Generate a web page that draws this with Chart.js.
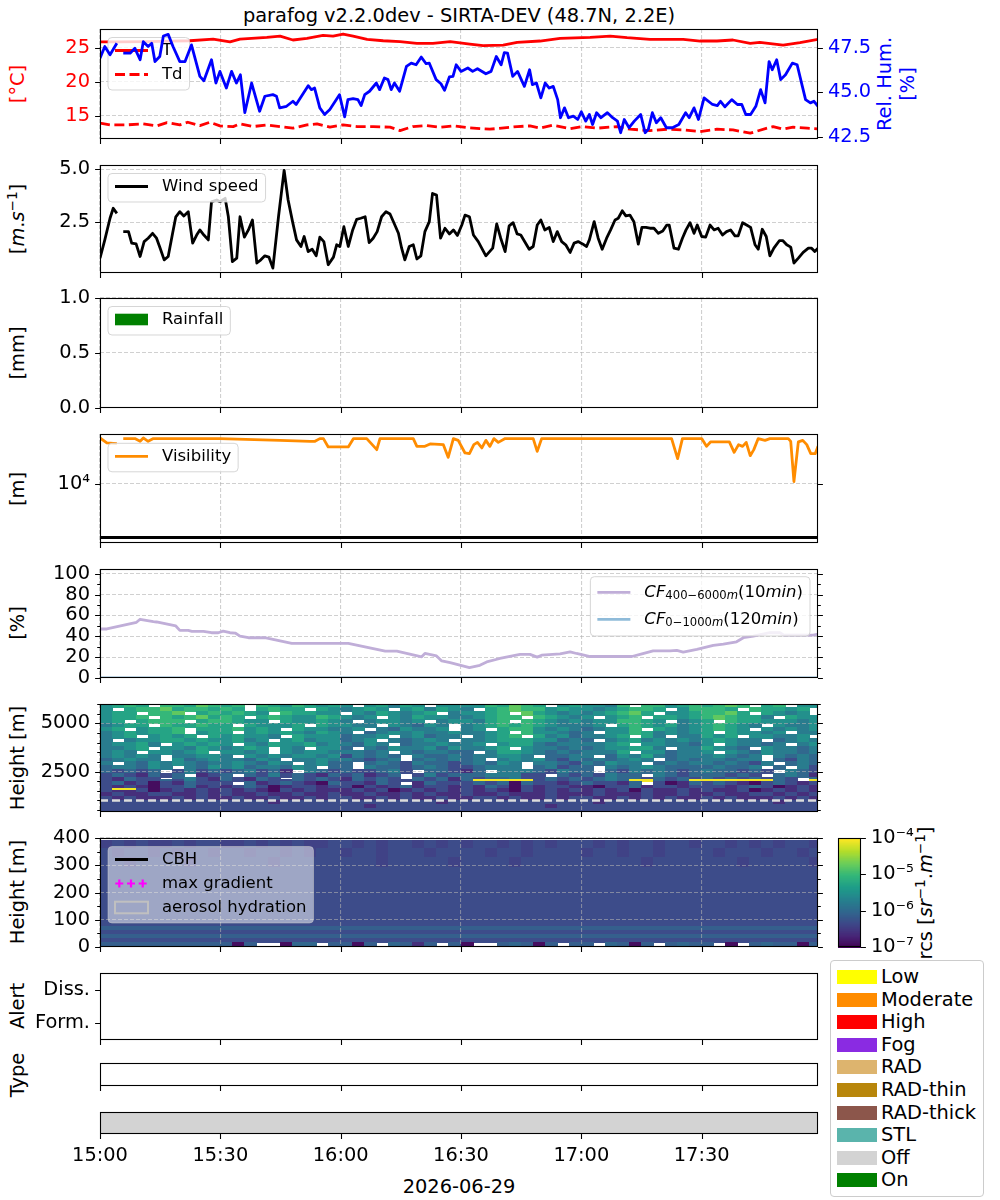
<!DOCTYPE html>
<html>
<head>
<meta charset="utf-8">
<title>parafog</title>
<script src="https://cdn.jsdelivr.net/npm/chart.js@4.4.1/dist/chart.umd.min.js"></script>
<style>
  body { margin: 0; background: #fff; }
  #fig { position: relative; width: 1000px; height: 1200px; overflow: hidden; font-family: 'DejaVu Sans', sans-serif; color: #000; }
  #fig canvas { position: absolute; left: 0; }
  .ylab { position: absolute; transform: translate(-50%, -50%) rotate(-90deg); white-space: nowrap; font-size: 19.4px; line-height: 23px; text-align: center; }
  .txt { position: absolute; transform: translate(-50%, -50%); white-space: nowrap; font-size: 19.4px; }
  .ylab sup { font-size: 0.7em; line-height: 0; vertical-align: 0.5em; }
  #states { position: absolute; left: 830px; top: 960px; width: 154px; height: 237px; box-sizing: border-box; border: 1px solid #ccc; border-radius: 4px; background: #fff; }
  .st { position: absolute; left: 6px; width: 40px; height: 14px; }
  .stl { position: absolute; left: 50px; font-size: 19.4px; line-height: 22px; white-space: nowrap; }
</style>
</head>
<body>
<div id="fig">
  <div class="txt" style="left:459px;top:15px">parafog v2.2.0dev - SIRTA-DEV (48.7N, 2.2E)</div>
  <div class="ylab" style="left:17px;top:84px;color:#f00">[°C]</div>
  <div class="ylab" style="left:896px;top:84px;color:#00f">Rel. Hum.<br>[%]</div>
  <div class="ylab" style="left:17px;top:219px">[<i>m</i>.<i>s</i><sup>−1</sup>]</div>
  <div class="ylab" style="left:17px;top:353px">[mm]</div>
  <div class="ylab" style="left:17px;top:489px">[m]</div>
  <div class="ylab" style="left:17px;top:623px">[%]</div>
  <div class="ylab" style="left:17px;top:758px">Height [m]</div>
  <div class="ylab" style="left:17px;top:892px">Height [m]</div>
  <div class="ylab" style="left:925px;top:893px">rcs [<i>sr</i><sup>−1</sup>.<i>m</i><sup>−1</sup>]</div>
  <div class="ylab" style="left:17px;top:1006px">Alert</div>
  <div class="ylab" style="left:17px;top:1075px">Type</div>
  <div class="txt" id="daylabel" style="left:459px;top:1186px"></div>
  <div id="states"></div>
</div>
<script>
// ---------- values ----------
var X_MAX = 179;                                   // minutes after 15:00
var xTicks = [0, 30, 60, 90, 120, 150];
var xTickLabels = ['15:00', '15:30', '16:00', '16:30', '17:00', '17:30'];
var dayLabel = '2026-06-29';

// temperature and dew point [°C]
var tempT = [0, 5, 12, 18, 22.4, 28.2, 32.4, 34.9, 41.6, 44.9, 48.1, 51.6, 55.6, 58.1, 60.6, 63.1, 66.6, 70.6, 74.8, 79, 83, 87.3, 92.2, 95.5, 100.5, 104, 109.7, 114.7, 122.2, 127.2, 131.4, 137.1, 145.4, 149.6, 153.8, 157.8, 162.1, 164.5, 170.3, 174.5, 179];
var tempV = [25.9, 25.9, 25.95, 26.0, 26.07, 26.3, 25.9, 26.3, 26.57, 26.76, 26.18, 26.43, 26.87, 26.76, 27.06, 26.76, 26.28, 26.07, 25.93, 25.69, 25.69, 25.93, 25.56, 25.34, 25.44, 25.84, 26.03, 26.43, 26.57, 26.76, 26.52, 26.28, 26.28, 26.03, 26.03, 26.18, 25.69, 25.84, 25.44, 25.79, 26.28];
var dewT = [0, 2.5, 6.7, 10.7, 14.2, 16.7, 19.9, 21.9, 24.9, 27.4, 29.9, 33.2, 34.9, 38.1, 41.6, 44.9, 48.1, 51.6, 54.1, 57.3, 60.6, 64.1, 68.1, 72.3, 74.8, 78, 81.5, 84.8, 88, 92.2, 97.2, 104, 107.2, 109.7, 112.9, 117.2, 120.4, 123.9, 128.9, 132.1, 137.1, 141.4, 145.4, 149.6, 153.8, 157.8, 162.1, 166.3, 167.8, 170.3, 172.8, 176.3, 179];
var dewV = [13.93, 13.68, 13.68, 13.82, 13.53, 14.0, 13.68, 14.07, 13.57, 14.07, 13.53, 13.43, 13.82, 13.43, 13.68, 13.43, 13.19, 13.68, 13.82, 13.34, 13.68, 13.43, 13.43, 13.34, 12.84, 13.43, 13.57, 13.34, 13.53, 13.24, 13.04, 13.43, 13.53, 13.19, 13.63, 13.13, 13.43, 13.19, 13.43, 13.04, 12.84, 13.04, 12.94, 12.69, 13.04, 12.94, 12.46, 13.19, 13.43, 13.04, 13.34, 13.19, 13.09];
var tempTicks = [15, 20, 25];
var tempTickLabels = ['15', '20', '25'];

// relative humidity [%]
var rhT = [0, 1.2, 2.5, 4.2, 5, 5.8, 7.5, 8.7, 10, 10.8, 12, 12.9, 13.7, 14.9, 15.8, 17, 18.2, 19.9, 21.2, 22.8, 24.9, 25.9, 27.8, 28.9, 29.9, 31.5, 32.8, 34, 35, 36.1, 37.8, 39.8, 41.1, 43.1, 44, 44.8, 46.5, 48.1, 48.9, 51.9, 52.7, 53.5, 54.8, 56, 57.3, 59.7, 61, 61.8, 63.1, 64.3, 65.1, 66, 67.2, 68.9, 69.7, 70.9, 71.8, 72.6, 73.4, 74.7, 76.4, 77.6, 78.8, 80.1, 81.3, 82.1, 83.8, 85, 85.9, 87.1, 88, 88.8, 90, 91.7, 92.9, 94.1, 96.2, 97.5, 98.8, 100, 100.8, 101.6, 102.9, 104.1, 105.8, 107.1, 107.8, 108.8, 109.9, 111, 112, 113, 114.1, 114.8, 115.8, 116.8, 118, 119.1, 120, 121.1, 122, 122.8, 123.8, 124.9, 126.5, 127.8, 129, 129.8, 130.7, 131.9, 133.2, 134.8, 135.9, 136.7, 137.7, 138.7, 139.8, 141.2, 142.7, 144.3, 146, 146.9, 148.1, 149.2, 150.6, 152.7, 153.9, 154.7, 155.8, 157.5, 158.9, 160, 161, 162.2, 163.5, 164.7, 165.8, 166.8, 167.6, 168.7, 169.7, 170.9, 172.6, 173.8, 175.1, 175.9, 177.1, 178, 179];
var rhV = [46.91, 47.56, 47.1, 47.74, null, 47.19, 47.19, 47.46, 46.82, 47.83, 47.56, 47.74, 46.72, 47.0, 48.15, 48.24, 47.56, 46.72, 46.72, 47.65, 45.89, 45.65, 46.82, 45.52, 46.17, 45.24, 46.17, 45.52, 45.98, 43.86, 45.52, 43.94, 44.78, 44.87, 44.78, 44.13, 44.22, 44.5, 44.32, 45.37, 45.15, 45.24, 44.13, 43.76, 44.04, 44.87, 43.63, 44.59, 44.65, 44.59, 44.26, 44.87, 45.06, 45.52, 45.15, 45.8, 45.71, 45.15, 45.52, 45.06, 46.45, 46.63, 46.54, 46.97, 46.6, 46.63, 45.71, 45.48, 45.11, 45.86, 45.89, 46.54, 46.17, 46.36, 46.17, 46.32, 46.04, 46.17, 47.0, 46.54, 47.22, 47.19, 45.89, 46.17, 45.33, 46.26, 45.43, 45.52, 44.69, 45.52, 45.24, 45.33, 44.59, 43.58, 44.13, 43.58, 43.67, 43.48, 43.91, 43.39, 43.76, 43.2, 43.86, 43.58, 43.86, 43.58, 43.39, 42.74, 43.48, 43.02, 43.39, 43.76, 42.74, 42.93, 43.86, 43.3, 43.58, 43.02, 43.02, 43.2, 43.86, 43.58, 44.13, 43.48, 44.69, 44.32, 44.26, 44.5, 44.19, 44.59, 44.32, 44.32, 43.76, 43.76, 44.22, 45.15, 44.41, 46.72, 46.26, 46.82, 45.71, 45.98, 46.63, 46.54, 45.33, 44.59, 44.41, 44.5, 44.22];
var rhTicks = [42.5, 45, 47.5];
var rhTickLabels = ['42.5', '45.0', '47.5'];

// wind speed [m/s]
var windT = [0, 1.2, 2.5, 3.3, 4.2, 5, 5.8, 7.1, 7.9, 9, 10, 11, 12, 13.1, 14.1, 15, 16, 17, 18.1, 18.9, 19.9, 20.9, 22, 23.1, 24.1, 24.9, 25.9, 27, 27.8, 29.1, 29.9, 31.2, 32, 33, 34.1, 34.9, 36, 37, 38, 39.1, 40.1, 41.1, 42.1, 43.1, 44.5, 45.9, 46.9, 48, 49, 50.1, 50.9, 51.9, 52.9, 53.9, 54.8, 55.8, 56.9, 58.2, 59, 59.8, 60.8, 61.9, 63, 64, 65, 66.1, 67.1, 68.1, 69.1, 70.2, 71.3, 72.3, 73.4, 74.4, 75.2, 76, 77.1, 78.1, 79, 80, 81, 82.1, 82.9, 83.9, 84.9, 86, 87.1, 88.1, 89.1, 90.2, 91, 92.1, 93.1, 94.3, 96.2, 97.9, 98.9, 99.9, 101, 102, 103, 104, 104.9, 107, 108, 109, 109.9, 110.9, 112, 113, 114, 115.1, 116.1, 117.2, 118.2, 119.2, 120.3, 121.3, 122, 123.2, 124.2, 125.2, 126.3, 127.3, 128.4, 129.2, 130.2, 131.1, 132.1, 133.1, 134.2, 135.1, 136.1, 137.1, 138.1, 139.2, 140.3, 141.3, 141.9, 143.1, 144.2, 145.2, 146.1, 147.1, 148.1, 148.9, 150, 151, 152.1, 153.1, 154.1, 155.2, 156.2, 157.2, 158.3, 159.1, 160.2, 161.2, 162.2, 163.3, 164.1, 165.1, 166.1, 167, 168, 169.4, 170.2, 171.2, 172.2, 173, 174.1, 175.3, 176.6, 177.4, 178.2, 179];
var windV = [0.81, 1.67, 2.69, 3.16, 2.92, null, 2.06, 2.06, 1.52, 1.48, 0.89, 1.59, 1.75, 1.98, 1.75, 1.28, 0.73, 0.89, 1.98, 2.76, 3.0, 2.8, 3.0, 1.52, 1.9, 2.14, 1.9, 1.67, 3.47, 3.55, 3.47, 3.63, 2.76, 0.65, 0.81, 2.76, 1.8, 2.14, 2.61, 0.58, 0.73, 0.92, 0.86, 0.34, 2.76, 4.95, 3.55, 2.53, 1.67, 1.36, 1.83, 1.12, 1.23, 0.92, 1.8, 1.59, 0.5, 0.86, 1.44, 1.36, 2.29, 1.36, 2.14, 2.64, 2.69, 2.76, 1.54, 1.75, 2.06, 2.76, 3.0, 2.89, 2.42, 1.98, 1.28, 0.73, 1.36, 1.44, 0.77, 0.92, 2.06, 2.53, 3.86, 3.78, 1.75, 2.22, 1.95, 2.14, 1.88, 2.37, 2.84, 2.76, 1.9, 1.59, 0.92, 1.28, 2.42, 1.75, 1.12, 2.33, 2.48, 1.95, 1.9, 1.23, 1.36, 2.37, 2.61, 2.14, 2.26, 1.59, 2.06, 1.59, 1.44, 1.08, 1.52, 1.59, 1.48, 1.36, 1.67, 2.53, 1.75, 1.23, 1.75, 2.14, 2.61, 2.69, 3.04, 2.8, 2.84, 2.53, 1.47, 2.26, 2.26, 2.22, 2.22, 1.98, 2.09, 2.37, 2.37, 1.28, 1.23, 1.75, 2.14, 2.48, 1.98, 2.37, 1.83, 1.8, 2.37, 2.14, 2.22, 1.9, 2.06, 2.14, 1.86, 1.86, 2.48, 2.37, 2.26, 1.44, 1.23, 2.17, 1.83, 0.92, 1.28, 1.64, 1.64, 1.44, 1.33, 0.58, 0.81, 1.08, 1.28, 1.28, 1.12, 1.28];
var windTicks = [2.5, 5.0];
var windTickLabels = ['2.5', '5.0'];

// rainfall [mm] (no rain in the period)
var rainT = [];
var rainV = [];
var rainTicks = [0, 0.5, 1];
var rainTickLabels = ['0.0', '0.5', '1.0'];

// visibility [m]
var visT = [0, 1.7, 4.2, 5, 5.8, 8.7, 10, 10.8, 12, 13.3, 29.9, 44.9, 52.4, 53.6, 54.8, 55.7, 56.9, 61.9, 63.2, 66.5, 69, 69.8, 78.1, 79, 81, 82.3, 85.6, 86.8, 88.1, 89.3, 91, 92.1, 93.2, 94.1, 95.2, 96.2, 97.2, 98.2, 99.3, 101, 108, 109, 110.1, 142.5, 144, 145.2, 150, 151.2, 152.2, 156.9, 158.1, 159.2, 160.2, 161.1, 162.1, 163, 164.1, 165.8, 167, 171.6, 172.2, 173, 174.1, 175.2, 176.2, 177.2, 178.3, 179];
var visV = [71000, 57300, 55600, null, 69000, 69000, 61400, 71000, 61400, 69000, 69000, 64000, 61400, 61400, 69000, 69000, 48200, 48200, 69000, 69000, 43000, 69000, 69000, 49500, 49500, 55000, 53200, 30900, 69000, 64000, 37300, 36200, 53200, 58700, 46200, 64000, 49500, 69000, 58700, 69000, 69000, 39900, 69000, 69000, 29200, 69000, 69000, 49500, 59800, 59800, 38300, 53200, 49500, 58700, 33200, 43000, 69000, 64000, 69000, 69000, 61400, 11000, 59800, 64000, 53200, 36200, 36200, 49500];
var fogVisLimit = 1000;
var visTicks = [10000];
var visTickLabels = ['10⁴'];

// cloud fraction [%]
var cfHighT = [0, 1.7, 9.1, 10, 13.3, 14.1, 18.9, 19.9, 22, 22.9, 25.8, 27.8, 29.5, 30.7, 32.4, 33.7, 34.9, 37, 41.1, 47.8, 61.9, 71.1, 74, 80.2, 81, 83.9, 85.2, 87.3, 92.1, 94.7, 96.4, 99.7, 104.7, 107.2, 109, 110.1, 114.7, 117.2, 118.8, 122.2, 132.6, 135.1, 137.9, 142.1, 143.8, 145.4, 148.8, 152.9, 155.4, 158.7, 160.4, 162.9, 167, 169.5, 170.4, 177.8, 179];
var cfHighV = [47, 47, 53.4, 56.3, 54, 53.7, 49.9, 45.7, 45.7, 44.7, 44.7, 43.4, 43.4, 45, 43.4, 43.1, 40.2, 38.6, 38.6, 33.2, 33.2, 25.7, 25.7, 20.3, 23.5, 21.2, 16.4, 14.8, 10, 12.2, 15.4, 18.7, 22.6, 22.6, 20, 21.9, 23.1, 25.1, 23.5, 20.6, 20.6, 23.1, 26, 26, 26.5, 24.8, 27.4, 31.2, 32.5, 34.7, 38.6, 40.2, 43.4, 43.4, 41.2, 41.2, 42.1];
var cfLowT = [0, 179];
var cfLowV = [0, 0];
var cfTicks = [0, 20, 40, 60, 80, 100];
var cfTickLabels = ['0', '20', '40', '60', '80', '100'];
var cfMinor = [10, 30, 50, 70, 90];

// range corrected signal, log10 classes per cell ('.' = no valid signal)
var rcsLevels = { '0': -6.9, '1': -6.6, 'a': -6.4, '2': -6.3, 'b': -6.1, '3': -6.0, '4': -5.75, '5': -5.5, '6': -5.25, '7': -5.0, '8': -4.75, '9': -4.05 };
var RCS_LOG_MIN = -7, RCS_LOG_MAX = -4;
var cellMinutes = 3;
// upper profile 400-6000 m, rows listed top -> bottom
var hiEdges = [400, 600, 800, 1000, 1200, 1400, 1500, 1600, 1800, 2000, 2100, 2200, 2400, 2600, 2800, 3000, 3200, 3400, 3600, 3800, 4000, 4200, 4400, 4600, 4800, 5000, 5200, 5400, 5600, 5800, 6000];
var hiRows = [
  '5676.77687' + '67.7657656' + '5.56465.55' + '5576876.56' + '5547.77567' + '6787.67.55',
  '5.67786776' + '76.6766.65' + '4565.56465' + '4.67877565' + '5456776.57' + '776.76656.',
  '566.778.67' + '6765.76655' + '.5465456.4' + '5567.86545' + '456786.556' + '7786.6545.',
  '5667.76786' + '76.6765576' + '545.546554' + '45677.7654' + '5.567.6656' + '787664.655',
  '56.6777.67' + '7655.65565' + '4.45545.45' + '5467.76545' + '4557765.45' + '6.76655545',
  '4566.76676' + '6.65556.65' + '544.54354.' + '4567676544' + '45.6765645' + '67654.5445',
  '56.5667.66' + '67565.6554' + '45.435445.' + '45.6775454' + '34557.6545' + '6765.54545',
  '4565667.56' + '6.56565465' + '4.34545445' + '4456.75543' + '4.55764545' + '6.65545.44',
  '456.5656.6' + '56554.6555' + '3445.45344' + '.4567.6453' + '4456.64.44' + '656.55445.',
  '4.45566565' + '5645.56455' + '345.43454.' + '4456665534' + '3.45645454' + '56544.3454',
  '45564.5656' + '5.54655645' + '4354.34454' + '45.5664344' + '4456.55443' + '5.54434.45',
  '4456.55465' + '4565.54.55' + '3.43544535' + '4456.54434' + '3455664.44' + '6543.54434',
  '454.55456.' + '5545.54554' + '4434.43443' + '3.46654343' + '4446.55344' + '5.54354434',
  '45454.4455' + '4.54545545' + '24343.4334' + '344554.334' + '4.35464344' + '45434.4343',
  '34544.5345' + '44354.4454' + '43234.3434' + '34.4545324' + '343454.343' + '44344.3243',
  '4.43545434' + '454354.453' + '3.34324332' + '34354.4432' + '43544.3434' + '434324.343',
  '344354.435' + '45344354.3' + '3.43323432' + '23444.3423' + '3.43454333' + '34334.3.42',
  '32323.2423' + '234231.432' + '322342.332' + '13.4443243' + '3.32434323' + '433232.432',
  '2321323.12' + '3.32423213' + '23123.2423' + '3344422.32' + '32433.4323' + '33232.3431',
  '21322.3421' + '32132.3232' + '13232.3231' + '3233422323' + '2343323232' + '32323232.3',
  '2132232421' + '3213223232' + '1323223231' + '3999992323' + '2343993239' + '99999932.9',
  '2312021322' + '2.31232103' + '22132.1322' + '2323032212' + '32213.2013' + '2321023212',
  '2121022312' + '1232012212' + '2021231221' + '2132021221' + '1022312212' + '2212320121',
  '2992012121' + '2121021211' + '1212012121' + '2121021212' + '1212021121' + '2112012121',
  '2112012121' + '2121021211' + '1212012121' + '2121021212' + '1212021121' + '2112012121',
  '1211221121' + '2112112112' + '1121121211' + '2112111211' + '1211121121' + '1211221212',
  '2121112121' + '1211211212' + '2112121121' + '1221211212' + '2112121211' + '2121112121',
  '2222222222' + '2222122222' + '2222222212' + '2222222222' + '2122222222' + '2222221222',
  '2222222222' + '2222222222' + '2212222222' + '2222222122' + '2222222222' + '2222222222',
  '2222222222' + '2222222222' + '2222222222' + '2222222222' + '2222222222' + '2222222222'
];
var cloudLimit = 1000;
var hiTicks = [2500, 5000];
var hiTickLabels = ['2500', '5000'];
var hiMinor = [500, 1000, 1500, 2000, 3000, 3500, 4000, 4500, 5500, 6000];
// lower profile 0-390 m, rows listed top -> bottom
var loEdges = [0, 15, 30, 45, 60, 75, 90, 130, 170, 210, 250, 290, 330, 360, 390];
var loRows = [
  'a2a2aa2a22' + 'aa2a2a2aa2' + '2a2a22a2a2' + 'a22a2a2a22' + '2a2a22a22a' + '22a2a2a22a',
  '2a22a2a22a' + '22a22a2a22' + 'a22a222a22' + '22a22a2222' + 'a22a22a222' + '2a222a22a2',
  '22a2222a22' + '2222a22222' + '222a22222a' + '2222a22222' + '22222a2222' + '222a22222a',
  '2222222222' + '2222222222' + '2222222222' + '2222222222' + '2222222222' + '2222222222',
  '2222222222' + '2222222222' + '2222222222' + '2222222222' + '2222222222' + '2222222222',
  '2222222222' + '2222222222' + '2222222222' + '2222222222' + '2222222222' + '2222222222',
  '2222222222' + '2222222222' + '2222222222' + '2222222222' + '2222222222' + '2222222222',
  '2222222222' + '2222222222' + '2222222222' + '2222222222' + '2222222222' + '2222222222',
  '2222222222' + '2222222222' + '2222222222' + '2222222222' + '2222222222' + '2222222222',
  'bbbbbbbbbb' + 'bbbbbbbbbb' + 'bbbbbbbbbb' + 'bbbbbbbbbb' + 'bbbbbbbbbb' + 'bbbbbbbbbb',
  '2222222222' + '2222222222' + '2222222222' + '2222222222' + '2222222222' + '2222222222',
  'bbbbbbbbbb' + 'bbbbbbbbbb' + 'bbbbbbbbbb' + 'bbbbbbbbbb' + 'bbbbbbbbbb' + 'bbbbbbbbbb',
  '2222222222' + '2222222222' + '2222222222' + '2222222222' + '2222222222' + '2222222222',
  'bbbbbbbbbb' + 'b0b..033.b' + 'b0b.3b1b.b' + '0..b3b0b.b' + 'b.3b0b.b3b' + 'b.0.b3bb0b'
];
var loTicks = [0, 100, 200, 300, 400];
var loTickLabels = ['0', '100', '200', '300', '400'];
var loMinor = [50, 150, 250, 350];
var cbhT = [], cbhV = [];            // no cloud base detected
var gradT = [], gradV = [];          // no max gradient detected
var cbTicks = [1e-7, 1e-6, 1e-5, 1e-4];
var cbTickLabels = ['10⁻⁷', '10⁻⁶', '10⁻⁵', '10⁻⁴'];

// alerts / fog type / ceilometer state
var alertTicks = [1, 2];
var alertLabels = ['Form.', 'Diss.'];
var stateStart = [0];
var stateEnd = [179];
var stateName = ['Off'];
var stateNames = ['Low', 'Moderate', 'High', 'Fog', 'RAD', 'RAD-thin', 'RAD-thick', 'STL', 'Off', 'On'];
var stateColors = ['#ffff00', '#ff8c00', '#ff0000', '#8a2be2', '#ddb46e', '#b8860b', '#8c564b', '#5ab4ac', '#d3d3d3', '#008000'];

// ---------- drawing ----------
Chart.defaults.font.family = "'DejaVu Sans', sans-serif";
Chart.defaults.color = '#000';

var FONT_TICK = 19.4, FONT_LEG = 16.5;
var GRID_COLOR = 'rgba(176,176,176,0.6)';
var PAD_TOP = 30, PAD_BOTTOM = 60, PLOT_L = 100, PLOT_R = 818;
var VIRIDIS = [[68, 1, 84], [72, 40, 120], [62, 73, 137], [49, 104, 142], [38, 130, 142], [31, 158, 137], [53, 183, 121], [110, 206, 88], [181, 222, 43], [253, 231, 37]];

function viridis(f) {
  f = Math.max(0, Math.min(1, f)) * (VIRIDIS.length - 1);
  var i = Math.min(Math.floor(f), VIRIDIS.length - 2), t = f - i;
  var a = VIRIDIS[i], b = VIRIDIS[i + 1];
  return 'rgb(' + Math.round(a[0] + (b[0] - a[0]) * t) + ',' + Math.round(a[1] + (b[1] - a[1]) * t) + ',' + Math.round(a[2] + (b[2] - a[2]) * t) + ')';
}

function xy(t, v) {
  return t.map(function (tt, i) { return { x: tt, y: v[i] }; });
}
function flat(v) {
  return [{ x: 0, y: v }, { x: X_MAX, y: v }];
}

function xScale(showLabels, showGrid) {
  return {
    type: 'linear', min: 0, max: X_MAX, offset: false,
    afterBuildTicks: function (s) { s.ticks = xTicks.map(function (v) { return { value: v }; }); },
    afterFit: function (s) { s.height = PAD_BOTTOM; },
    grid: { display: showGrid, offset: false, color: GRID_COLOR, lineWidth: 1.1, drawTicks: false },
    border: { display: false, dash: [4, 2] },
    ticks: { display: showLabels, padding: 10, maxRotation: 0, autoSkip: false, font: { size: FONT_TICK },
      callback: function (v, i) { return xTickLabels[i]; } }
  };
}

function yScale(o) {
  return {
    type: o.type || 'linear',
    position: o.position || 'left',
    min: o.min, max: o.max,
    afterBuildTicks: function (s) { s.ticks = (o.ticks || []).map(function (v) { return { value: v }; }); },
    afterFit: function (s) { s.width = o.width || PLOT_L; },
    grid: { display: o.grid !== false, color: GRID_COLOR, lineWidth: 1.1, drawTicks: false },
    border: { display: false, dash: [4, 2] },
    ticks: { display: !!o.labels, autoSkip: false, padding: 10, color: o.color || '#000', font: { size: FONT_TICK },
      callback: function (v, i) { return o.labels ? o.labels[i] : ''; } }
  };
}

function panelOptions(yScales, showXLabels, showXGrid, rightPad, leftPad) {
  var scales = { x: xScale(showXLabels, showXGrid) };
  for (var k in yScales) scales[k] = yScales[k];
  return {
    responsive: false, animation: false, events: [],
    layout: { padding: { left: leftPad || 0, right: rightPad, top: PAD_TOP, bottom: 0 } },
    elements: { point: { radius: 0 }, line: { tension: 0, borderJoinStyle: 'round' } },
    plugins: { legend: { display: false }, tooltip: { enabled: false } },
    scales: scales
  };
}

function addPanel(top, bottom, config) {
  var cv = document.createElement('canvas');
  var h = (bottom - top) + PAD_TOP + PAD_BOTTOM;
  cv.width = 1000; cv.height = h;
  cv.style.width = '1000px'; cv.style.height = h + 'px';
  cv.style.top = (top - PAD_TOP) + 'px';
  document.getElementById('fig').appendChild(cv);
  return new Chart(cv, config);
}

// frame + outward tick marks (major and minor) like matplotlib
function deco(marks) {
  return {
    id: 'deco',
    afterDraw: function (chart) {
      var ctx = chart.ctx, a = chart.chartArea;
      ctx.save();
      ctx.strokeStyle = '#000';
      ctx.lineWidth = 1.1;
      ctx.beginPath();
      marks.forEach(function (m) {
        var s = chart.scales[m.scale];
        m.values.forEach(function (v) {
          var p = Math.round(s.getPixelForValue(v)) + 0.5;
          if (m.side === 'bottom') { ctx.moveTo(p, a.bottom); ctx.lineTo(p, a.bottom + m.len); }
          else if (m.side === 'left') { ctx.moveTo(a.left, p); ctx.lineTo(a.left - m.len, p); }
          else { ctx.moveTo(a.right, p); ctx.lineTo(a.right + m.len, p); }
        });
      });
      ctx.stroke();
      ctx.strokeRect(a.left + 0.5, a.top + 0.5, a.right - a.left - 1, a.bottom - a.top - 1);
      ctx.restore();
    }
  };
}
var xMarks = { scale: 'x', side: 'bottom', values: xTicks, len: 4.9 };
function yMarks(values, side, len, scale) {
  return { scale: scale || 'y', side: side, values: values, len: len || 4.9 };
}

function roundRect(ctx, x, y, w, h, r) {
  ctx.beginPath();
  ctx.moveTo(x + r, y);
  ctx.lineTo(x + w - r, y); ctx.arcTo(x + w, y, x + w, y + r, r);
  ctx.lineTo(x + w, y + h - r); ctx.arcTo(x + w, y + h, x + w - r, y + h, r);
  ctx.lineTo(x + r, y + h); ctx.arcTo(x, y + h, x, y + h - r, r);
  ctx.lineTo(x, y + r); ctx.arcTo(x, y, x + r, y, r);
  ctx.closePath();
}

// math label "CF_{sub}(N min)"
function cfText(sub, n) {
  return function (ctx, x, y, measureOnly) {
    var parts = [['italic', FONT_LEG, 'CF', 0], ['normal', 11.6, sub, 4], ['italic', 11.6, 'm', 4],
                 ['normal', FONT_LEG, '(' + n, 0], ['italic', FONT_LEG, 'min', 0], ['normal', FONT_LEG, ')', 0]];
    var x0 = x;
    parts.forEach(function (p) {
      ctx.font = p[0] + ' ' + p[1] + "px 'DejaVu Sans'";
      if (!measureOnly) ctx.fillText(p[2], x, y + p[3]);
      x += ctx.measureText(p[2]).width;
    });
    return x - x0;
  };
}

function drawLegend(chart, spec) {
  var ctx = chart.ctx, a = chart.chartArea;
  var step = spec.step || 24;
  ctx.save();
  ctx.font = FONT_LEG + "px 'DejaVu Sans'";
  var tw = 0;
  spec.items.forEach(function (it) {
    ctx.font = FONT_LEG + "px 'DejaVu Sans'";
    tw = Math.max(tw, it.rich ? it.rich(ctx, 0, 0, true) : ctx.measureText(it.label).width);
  });
  var w = 54 + tw + 7;
  var h = spec.h || (28.5 + (spec.items.length - 1) * step);
  var x0 = spec.right ? a.right - 8 - w : a.left + 8;
  var y0 = a.top + (spec.top || 8.5);
  roundRect(ctx, x0, y0, w, h, 4);
  ctx.fillStyle = 'rgba(255,255,255,' + spec.alpha + ')';
  ctx.fill();
  ctx.strokeStyle = 'rgba(204,204,204,' + spec.alpha + ')';
  ctx.lineWidth = 1;
  ctx.stroke();
  spec.items.forEach(function (it, i) {
    var cy = y0 + (spec.first || 13) + i * step;
    var hx0 = x0 + 7, hx1 = x0 + 40;
    ctx.save();
    if (it.kind === 'line') {
      ctx.strokeStyle = it.color; ctx.lineWidth = 2.8;
      ctx.setLineDash(it.dash || []);
      ctx.beginPath(); ctx.moveTo(hx0, cy); ctx.lineTo(hx1, cy); ctx.stroke();
    } else if (it.kind === 'patch') {
      ctx.fillStyle = it.color;
      ctx.fillRect(hx0, cy - 5.8, hx1 - hx0, 11.6);
    } else if (it.kind === 'plus') {
      ctx.strokeStyle = it.color; ctx.lineWidth = 2.2;
      [11.3, 23, 34.7].forEach(function (dx) {
        ctx.beginPath();
        ctx.moveTo(x0 + dx - 4, cy); ctx.lineTo(x0 + dx + 4, cy);
        ctx.moveTo(x0 + dx, cy - 4); ctx.lineTo(x0 + dx, cy + 4);
        ctx.stroke();
      });
    } else if (it.kind === 'box') {
      ctx.strokeStyle = it.color; ctx.lineWidth = 2;
      ctx.strokeRect(hx0, cy - 5.8, hx1 - hx0, 11.6);
    }
    ctx.restore();
    ctx.fillStyle = '#000';
    ctx.textBaseline = 'middle';
    if (it.rich) it.rich(ctx, x0 + 54, cy, false);
    else { ctx.font = FONT_LEG + "px 'DejaVu Sans'"; ctx.fillText(it.label, x0 + 54, cy); }
  });
  ctx.restore();
}

function legendOnTop(spec) {
  return { id: 'legendTop', afterDatasetsDraw: function (chart) { drawLegend(chart, spec); } };
}
// legend of the first axes, drawn under the twin axes line
function legendAfterDataset(index, spec) {
  return { id: 'legendMid', afterDatasetDraw: function (chart, args) { if (args.index === index) drawLegend(chart, spec); } };
}

function heatmapLayer(rows, edges) {
  return {
    id: 'heatmap',
    beforeDraw: function (chart) {
      var ctx = chart.ctx, a = chart.chartArea, xs = chart.scales.x, ys = chart.scales.y;
      var n = rows.length;
      ctx.save();
      ctx.beginPath(); ctx.rect(a.left, a.top, a.right - a.left, a.bottom - a.top); ctx.clip();
      rows.forEach(function (row, r) {
        var yTop = ys.getPixelForValue(edges[n - r]);
        var yBot = ys.getPixelForValue(edges[n - r - 1]);
        for (var c = 0; c < row.length; c++) {
          var lv = rcsLevels[row.charAt(c)];
          if (lv === undefined) continue;
          var x0 = xs.getPixelForValue(c * cellMinutes);
          var x1 = xs.getPixelForValue(Math.min((c + 1) * cellMinutes, X_MAX));
          ctx.fillStyle = viridis((lv - RCS_LOG_MIN) / (RCS_LOG_MAX - RCS_LOG_MIN));
          ctx.fillRect(Math.floor(x0), Math.floor(yTop), Math.ceil(x1) - Math.floor(x0), Math.ceil(yBot) - Math.floor(yTop));
        }
      });
      ctx.restore();
    }
  };
}

function stateLayer() {
  return {
    id: 'states',
    beforeDraw: function (chart) {
      var ctx = chart.ctx, a = chart.chartArea, xs = chart.scales.x;
      stateName.forEach(function (nm, i) {
        var x0 = xs.getPixelForValue(stateStart[i]), x1 = xs.getPixelForValue(stateEnd[i]);
        ctx.fillStyle = stateColors[stateNames.indexOf(nm)];
        ctx.fillRect(x0, a.top, x1 - x0, a.bottom - a.top);
      });
    }
  };
}

function colorbarLayer() {
  return {
    id: 'colorbar',
    beforeDraw: function (chart) {
      var ctx = chart.ctx, a = chart.chartArea, ys = chart.scales.y;
      var steps = 220;
      for (var i = 0; i < steps; i++) {
        var l0 = RCS_LOG_MIN + (RCS_LOG_MAX - RCS_LOG_MIN) * i / steps;
        var l1 = RCS_LOG_MIN + (RCS_LOG_MAX - RCS_LOG_MIN) * (i + 1) / steps;
        var y0 = ys.getPixelForValue(Math.pow(10, l0)), y1 = ys.getPixelForValue(Math.pow(10, l1));
        ctx.fillStyle = viridis((i + 0.5) / steps);
        ctx.fillRect(a.left, y1, a.right - a.left, y0 - y1 + 1);
      }
    }
  };
}

// 1. temperature, dew point, relative humidity
addPanel(29, 139, {
  type: 'line',
  data: { datasets: [
    { label: 'T', data: xy(tempT, tempV), borderColor: '#ff0000', borderWidth: 2.8, yAxisID: 'y', order: 1 },
    { label: 'Td', data: xy(dewT, dewV), borderColor: '#ff0000', borderWidth: 2.8, borderDash: [10, 4.5], yAxisID: 'y', order: 2 },
    { label: 'RH', data: xy(rhT, rhV), borderColor: '#0000ff', borderWidth: 2.8, yAxisID: 'y2', order: 0 }
  ] },
  options: panelOptions({
    y: yScale({ min: 11.6, max: 27.8, ticks: tempTicks, labels: tempTickLabels, color: '#ff0000' }),
    y2: yScale({ position: 'right', width: 60, min: 42.39, max: 48.54, ticks: rhTicks, labels: rhTickLabels, color: '#0000ff', grid: false })
  }, false, true, 1000 - PLOT_R - 60),
  plugins: [legendAfterDataset(0, { alpha: 0.8, items: [
    { kind: 'line', color: '#ff0000', label: 'T' },
    { kind: 'line', color: '#ff0000', dash: [10, 4.5], label: 'Td' }] }),
    deco([xMarks, yMarks(tempTicks, 'left'), yMarks(rhTicks, 'right', 4.9, 'y2')])]
});

// 2. wind speed
addPanel(165, 273, {
  type: 'line',
  data: { datasets: [{ label: 'Wind speed', data: xy(windT, windV), borderColor: '#000', borderWidth: 2.8 }] },
  options: panelOptions({ y: yScale({ min: 0.11, max: 5.2, ticks: windTicks, labels: windTickLabels }) }, false, true, 1000 - PLOT_R),
  plugins: [legendOnTop({ alpha: 0.8, items: [{ kind: 'line', color: '#000', label: 'Wind speed' }] }),
    deco([xMarks, yMarks(windTicks, 'left')])]
});

// 3. rainfall
addPanel(298, 408, {
  type: 'line',
  data: { datasets: [{ type: 'bar', label: 'Rainfall', data: xy(rainT, rainV), backgroundColor: '#008000' }] },
  options: panelOptions({ y: yScale({ min: 0, max: 1, ticks: rainTicks, labels: rainTickLabels }) }, false, true, 1000 - PLOT_R),
  plugins: [legendOnTop({ alpha: 0.8, items: [{ kind: 'patch', color: '#008000', label: 'Rainfall' }] }),
    deco([xMarks, yMarks(rainTicks, 'left')])]
});

// 4. visibility (log)
addPanel(434, 543, {
  type: 'line',
  data: { datasets: [
    { label: 'Visibility', data: xy(visT, visV), borderColor: '#ff8c00', borderWidth: 2.8 },
    { label: 'fog limit', data: flat(fogVisLimit), borderColor: '#000', borderWidth: 3 }
  ] },
  options: panelOptions({ y: yScale({ type: 'logarithmic', min: 790, max: 84000, ticks: visTicks, labels: visTickLabels }) }, false, true, 1000 - PLOT_R),
  plugins: [legendOnTop({ alpha: 0.8, top: 9.3, items: [{ kind: 'line', color: '#ff8c00', label: 'Visibility' }] }),
    deco([xMarks, yMarks(visTicks, 'left'), yMarks(visTicks, 'right')])]
});

// 5. cloud fraction
addPanel(569, 678, {
  type: 'line',
  data: { datasets: [
    { label: 'CF high', data: xy(cfHighT, cfHighV), borderColor: '#c0aed8', borderWidth: 2.8 },
    { label: 'CF low', data: xy(cfLowT, cfLowV), borderColor: '#8fbbd9', borderWidth: 2.8 }
  ] },
  options: panelOptions({ y: yScale({ min: 0, max: 104.5, ticks: cfTicks, labels: cfTickLabels }) }, false, true, 1000 - PLOT_R),
  plugins: [legendOnTop({ alpha: 0.8, right: true, top: 7.7, h: 59.3, first: 15.6, step: 27, items: [
    { kind: 'line', color: '#c0aed8', rich: cfText('400−6000', '10') },
    { kind: 'line', color: '#8fbbd9', rich: cfText('0−1000', '120') }] }),
    deco([xMarks, yMarks(cfTicks, 'left'), yMarks(cfMinor, 'left', 2.8), yMarks(cfTicks, 'right'), yMarks(cfMinor, 'right', 2.8)])]
});

// 6. backscatter 400-6000 m
addPanel(704, 812, {
  type: 'line',
  data: { datasets: [{ label: 'limit', data: flat(cloudLimit), borderColor: '#dcdcdc', borderWidth: 2.6, borderDash: [8, 4] }] },
  options: panelOptions({ y: yScale({ min: 400, max: 6000, ticks: hiTicks, labels: hiTickLabels }) }, false, true, 1000 - PLOT_R),
  plugins: [heatmapLayer(hiRows, hiEdges),
    deco([xMarks, yMarks(hiTicks, 'left'), yMarks(hiMinor, 'left', 2.8), yMarks(hiTicks, 'right'), yMarks(hiMinor, 'right', 2.8)])]
});

// 7. backscatter 0-400 m
addPanel(838, 947, {
  type: 'line',
  data: { datasets: [
    { label: 'CBH', data: xy(cbhT, cbhV), borderColor: '#000', borderWidth: 2.8 },
    { label: 'max gradient', data: xy(gradT, gradV), borderColor: '#ff00ff', showLine: false }
  ] },
  options: panelOptions({ y: yScale({ min: 0, max: 400, ticks: loTicks, labels: loTickLabels }) }, false, true, 1000 - PLOT_R),
  plugins: [heatmapLayer(loRows, loEdges),
    legendOnTop({ alpha: 0.5, items: [
      { kind: 'line', color: '#000', label: 'CBH' },
      { kind: 'plus', color: '#ff00ff', label: 'max gradient' },
      { kind: 'box', color: '#c0c0c0', label: 'aerosol hydration' }] }),
    deco([xMarks, yMarks(loTicks, 'left'), yMarks(loMinor, 'left', 2.8), yMarks(loTicks, 'right'), yMarks(loMinor, 'right', 2.8)])]
});

// colorbar (hidden x axis keeps the same bottom space as the other panels)
addPanel(838, 947, {
  type: 'line',
  data: { datasets: [] },
  options: (function () {
    var o = panelOptions({ y: yScale({ type: 'logarithmic', position: 'right', width: 60, min: 1e-7, max: 1e-4, ticks: cbTicks, labels: cbTickLabels, grid: false }) }, false, false, 1000 - 861 - 60, 838);
    o.scales.x.ticks.display = false;
    return o;
  })(),
  plugins: [colorbarLayer(), deco([yMarks(cbTicks, 'right')])]
});

// 8. alerts
addPanel(973, 1040, {
  type: 'line',
  data: { datasets: [] },
  options: panelOptions({ y: yScale({ min: 0.5, max: 2.5, ticks: alertTicks, labels: alertLabels, grid: false }) }, false, false, 1000 - PLOT_R),
  plugins: [deco([xMarks, yMarks(alertTicks, 'left')])]
});

// 9. fog type
addPanel(1063, 1086, {
  type: 'line',
  data: { datasets: [] },
  options: panelOptions({ y: yScale({ min: 0, max: 1, ticks: [], grid: false }) }, false, false, 1000 - PLOT_R),
  plugins: [deco([xMarks])]
});

// 10. ceilometer state + time axis
addPanel(1112, 1134, {
  type: 'line',
  data: { datasets: [] },
  options: panelOptions({ y: yScale({ min: 0, max: 1, ticks: [], grid: false }) }, true, false, 1000 - PLOT_R),
  plugins: [stateLayer(), deco([xMarks])]
});

document.getElementById('daylabel').textContent = dayLabel;

var box = document.getElementById('states');
stateNames.forEach(function (nm, i) {
  var cy = 16 + 22.6 * i;
  var p = document.createElement('div');
  p.className = 'st';
  p.style.top = (cy - 7) + 'px';
  p.style.background = stateColors[i];
  var l = document.createElement('div');
  l.className = 'stl';
  l.style.top = (cy - 11) + 'px';
  l.textContent = nm;
  box.appendChild(p);
  box.appendChild(l);
});
console.log('ready');
</script>
</body>
</html>
